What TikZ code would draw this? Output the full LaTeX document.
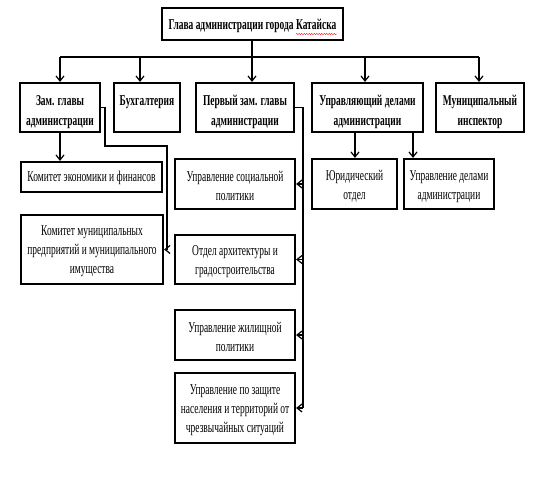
\documentclass[tikz,border=0pt]{standalone}
\usepackage{fontspec}
\setmainfont{Liberation Serif}[FakeStretch=0.63]
\usetikzlibrary{arrows.meta,decorations.pathmorphing}
\newcommand\dn[1]{\rule{0pt}{\dimexpr 10.5pt+#1\relax}}
\begin{document}
\begin{tikzpicture}[x=1pt,y=-1pt,
  box/.style={draw,line width=2.2pt,align=center,inner sep=0pt,font=\fontsize{15}{19}\selectfont},
  hbox/.style={box,font=\fontsize{15}{20}\selectfont\bfseries},
  con/.style={line width=1.4pt},
  bus/.style={line width=2.2pt},
  arr/.style={con,-{Straight Barb[length=5pt,width=8pt,line width=1.2pt]}}]
\useasboundingbox (0,0) rectangle (537,495);
% top
\node[hbox,minimum width=181pt,minimum height=32pt] (top) at (252.5,24) {\dn{4pt}Глава администрации города Катайска};
% row 2
\node[hbox,minimum width=80pt,minimum height=49pt] (b1) at (60,107.5) {\dn{8pt}Зам. главы\\администрации};
\node[hbox,minimum width=66pt,minimum height=49pt] (b2) at (147,107.5) {\dn{8pt}Бухгалтерия\\\phantom{администр}};
\node[hbox,minimum width=98pt,minimum height=49pt] (b3) at (245,107.5) {\dn{8pt}Первый зам. главы\\администрации};
\node[hbox,minimum width=111pt,minimum height=49pt] (b4) at (367.5,107.5) {\dn{8pt}Управляющий делами\\администрации};
\node[hbox,minimum width=88pt,minimum height=49pt] (b5) at (480,107.5) {\dn{8pt}Муниципальный\\инспектор};
% row 3
\node[box,minimum width=141pt,minimum height=30pt] (ke) at (91.5,177) {\dn{2pt}Комитет экономики и финансов};
\node[box,minimum width=142pt,minimum height=69pt] (km) at (92,249.5) {\dn{3pt}Комитет муниципальных\\предприятий и муниципального\\имущества};
\node[box,minimum width=120pt,minimum height=50pt] (us) at (235,184) {\dn{4pt}Управление социальной\\политики};
\node[box,minimum width=120pt,minimum height=49pt] (oa) at (235,259.5) {\dn{4pt}Отдел архитектуры и\\градостроительства};
\node[box,minimum width=120pt,minimum height=50pt] (uz) at (235,335) {\dn{4pt}Управление жилищной\\политики};
\node[box,minimum width=120pt,minimum height=70pt] (up) at (235,408) {\dn{4pt}Управление по защите\\населения и территорий от\\чрезвычайных ситуаций};
\node[box,minimum width=85pt,minimum height=50pt] (yo) at (354.5,184) {\dn{4pt}Юридический\\отдел};
\node[box,minimum width=90pt,minimum height=50pt] (ud) at (449,184) {\dn{4pt}Управление делами\\администрации};
% bus
\coordinate (t1) at (60,57);
\coordinate (t2) at (140,57);
\coordinate (t3) at (252,57);
\coordinate (t4) at (365,57);
\coordinate (t5) at (479,57);
\draw[con] (t3 |- top.south) -- (t3);
\draw[bus] (t1) -- (t5);
\draw[arr] (t1) -- (t1 |- b1.north);
\draw[arr] (t2) -- (t2 |- b2.north);
\draw[arr] (t3) -- (t3 |- b3.north);
\draw[arr] (t4) -- (t4 |- b4.north);
\draw[arr] (t5) -- (t5 |- b5.north);
% left branch
\draw[arr] (b1.south) -- (b1.south |- ke.north);
\coordinate (k1) at (105,146);
\coordinate (k2) at (167,146);
\draw[arr] (b1.east) -| (k1) -- (k2) |- (km.east);
% middle branch
\coordinate (v) at (303,0);
\draw[con] (b3.east) -| (v |- up.east);
\draw[arr] (v |- us.east) -- (us.east);
\draw[arr] (v |- oa.east) -- (oa.east);
\draw[arr] (v |- uz.east) -- (uz.east);
\draw[arr] (v |- up.east) -- (up.east);
% right branch
\coordinate (r1) at (355,0);
\coordinate (r2) at (413,0);
\draw[arr] (r1 |- b4.south) -- (r1 |- yo.north);
\draw[arr] (r2 |- b4.south) -- (r2 |- ud.north);
% spell-check underline
\draw[red,line width=0.4pt,decorate,decoration={snake,amplitude=0.6pt,segment length=2.5pt}] (296,34) -- (337,34);
\end{tikzpicture}
\end{document}
